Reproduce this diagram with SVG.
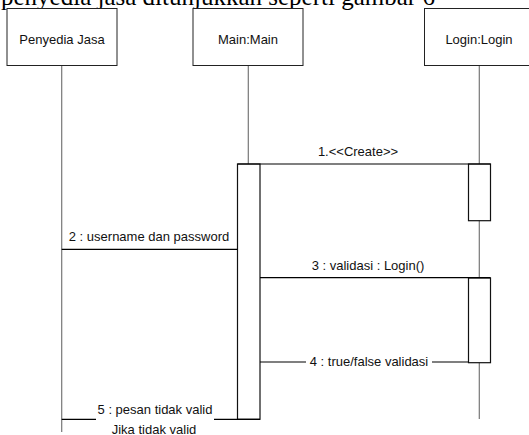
<svg xmlns="http://www.w3.org/2000/svg" width="529" height="435" viewBox="0 0 529 435">
<style>
.box{fill:#fff;stroke:#222;stroke-width:1}
.life{stroke:#777;stroke-width:1.2;fill:none}
.act{fill:#fff;stroke:#111;stroke-width:1.2}
.msg{stroke:#000;stroke-width:1.2;fill:none}
.t{font-family:"Liberation Sans",Arial,sans-serif;font-size:13px;fill:#111;text-anchor:middle}
.title{font-family:"Liberation Serif","Times New Roman",serif;font-size:25px;fill:#000}
</style>
<rect width="529" height="435" fill="#fff"/>
<text class="title" x="1" y="5">penyedia jasa ditunjukkan seperti gambar 6</text>
<g id="lifelines">
<line class="life" x1="61.7" y1="65" x2="61.7" y2="432"/>
<line class="life" x1="248.3" y1="65" x2="248.3" y2="164"/>
<line class="life" x1="479.3" y1="65" x2="479.3" y2="419"/>
</g>
<g id="penyedia">
<rect class="box" x="7" y="8.5" width="110" height="57"/>
<text class="t" x="62" y="44">Penyedia Jasa</text>
</g>
<g id="main">
<rect class="box" x="193" y="8.5" width="110" height="57"/>
<text class="t" x="248" y="44">Main:Main</text>
<rect class="act" x="237.5" y="164" width="22.5" height="255.3"/>
</g>
<g id="login">
<rect class="box" x="424.5" y="8.5" width="110" height="57"/>
<text class="t" x="479" y="44">Login:Login</text>
<rect class="act" x="468.5" y="164" width="22" height="56.7"/>
<rect class="act" x="468.5" y="278" width="22" height="84.7"/>
</g>
<g id="connectors">
<line class="msg" x1="237.5" y1="164" x2="490.5" y2="164"/>
<text class="t" x="358" y="156">1.&lt;&lt;Create&gt;&gt;</text>
<line class="msg" x1="61.7" y1="249.3" x2="237.5" y2="249.3"/>
<text class="t" x="149" y="241">2 : username dan password</text>
<line class="msg" x1="260" y1="277.7" x2="490.5" y2="277.7"/>
<text class="t" x="368" y="270">3 : validasi : Login()</text>
<line class="msg" x1="260" y1="362" x2="306" y2="362"/>
<line class="msg" x1="432" y1="362" x2="468.5" y2="362"/>
<text class="t" x="369" y="366">4 : true/false validasi</text>
<line class="msg" x1="61.7" y1="419.3" x2="96" y2="419.3"/>
<line class="msg" x1="214" y1="419.3" x2="260" y2="419.3"/>
<text class="t" x="155" y="414">5 : pesan tidak valid</text>
<text class="t" x="154" y="434">Jika tidak valid</text>
</g>
</svg>
